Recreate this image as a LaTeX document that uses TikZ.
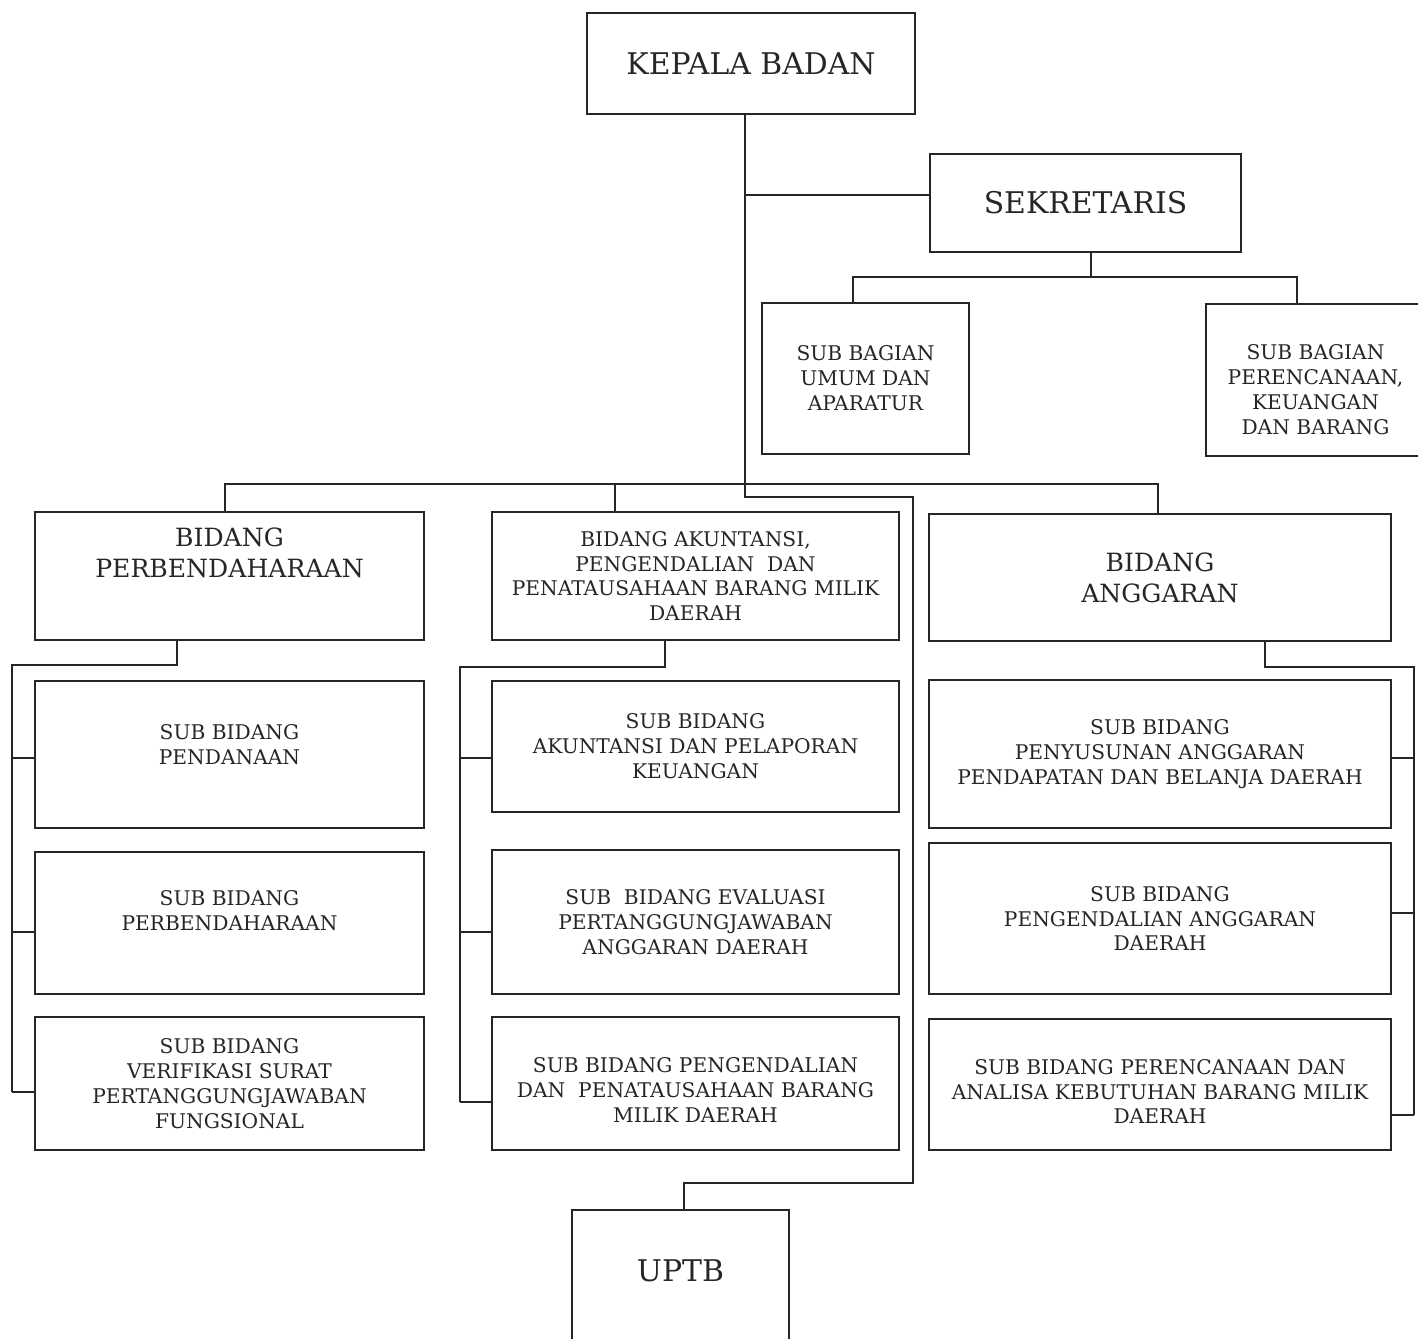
\documentclass[tikz,border=0pt]{standalone}
\usepackage{fontspec}
\setmainfont{DejaVu Serif}
\usepackage{tikz}
\usetikzlibrary{positioning}

\begin{document}
\begin{tikzpicture}[
		x=0.02cm, y=-0.02cm
		,line width=1.1pt, draw=black!85
		,every node/.append style={align=center, inner sep=0pt, text=black!85}
		,box/.style={draw=black!85, rectangle, line width=1.1pt}
		,sz/.style 2 args={minimum width=#1*0.02cm, minimum height=#2*0.02cm}
		,big/.style={font=\fontsize{17}{20}\selectfont}
		,mid/.style={font=\fontsize{14.3}{17.6}\selectfont}
		,sml/.style={font=\fontsize{11.5}{14.2}\selectfont}
	]
		\useasboundingbox (0,0) rectangle (1418,1339);

		% top
		\node [box, big, sz={328}{101}] (kepala) at (751,63.5) {KEPALA BADAN};
		\node [box, big, sz={311}{98}] (sek) at (1085.5,203) {SEKRETARIS};
		\node [box, sml, sz={207}{151}] (umum) at (865.5,378.5) {SUB BAGIAN\\UMUM DAN\\APARATUR};
		\node [box, sz={219}{152}, label={[sml, yshift=-5.7pt]center:{SUB BAGIAN\\PERENCANAAN,\\KEUANGAN\\DAN BARANG}}] (renc) at (1315.5,380) {};

		% bidang
		\node [box, sz={389}{128}, label={[mid, yshift=13pt]center:{BIDANG\\PERBENDAHARAAN}}] (perb) at (229.5,576) {};
		\node [box, sml, sz={407}{128}] (akun) at (695.5,576) {BIDANG AKUNTANSI,\\PENGENDALIAN\ \ DAN\\PENATAUSAHAAN BARANG MILIK\\DAERAH};
		\node [box, mid, sz={462}{127}] (angg) at (1160,577.5) {BIDANG\\ANGGARAN};

		% sub bidang
		\node [box, sz={389}{147}, label={[sml, yshift=5.4pt]center:{SUB BIDANG\\PENDANAAN}}] (p1) at (229.5,754.5) {};
		\node [box, sz={389}{142}, label={[sml, yshift=6.8pt]center:{SUB BIDANG\\PERBENDAHARAAN}}] (p2) at (229.5,923) {};
		\node [box, sml, sz={389}{133}] (p3) at (229.5,1083.5) {SUB BIDANG\\VERIFIKASI SURAT\\PERTANGGUNGJAWABAN\\FUNGSIONAL};

		\node [box, sml, sz={407}{131}] (k1) at (695.5,746.5) {SUB BIDANG\\AKUNTANSI DAN PELAPORAN\\KEUANGAN};
		\node [box, sml, sz={407}{144}] (k2) at (695.5,922) {SUB\ \ BIDANG EVALUASI\\PERTANGGUNGJAWABAN\\ANGGARAN DAERAH};
		\node [box, sz={407}{133}, label={[sml, yshift=-3.7pt]center:{SUB BIDANG PENGENDALIAN\\DAN\ \ PENATAUSAHAAN BARANG\\MILIK DAERAH}}] (k3) at (695.5,1083.5) {};

		\node [box, sml, sz={462}{148}] (a1) at (1160,754) {SUB BIDANG\\PENYUSUNAN ANGGARAN\\PENDAPATAN DAN BELANJA DAERAH};
		\node [box, sml, sz={462}{151}] (a2) at (1160,918.5) {SUB BIDANG\\PENGENDALIAN ANGGARAN\\DAERAH};
		\node [box, sz={462}{131}, label={[sml, yshift=-4pt]center:{SUB BIDANG PERENCANAAN DAN\\ANALISA KEBUTUHAN BARANG MILIK\\DAERAH}}] (a3) at (1160,1084.5) {};

		\node [box, sz={217}{142}, label={[big, yshift=5.7pt]center:{UPTB}}] (uptb) at (680.5,1281) {};

		% garis
		\coordinate (spine) at (745,497);
		\coordinate (jog) at (913,1183);
		\coordinate (drop) at (684,1183);
		\draw (kepala.south -| spine) -- (spine) -| (jog) -- (drop) -- (uptb.north -| drop);
		\coordinate (sekin) at (930,195);
		\draw (spine |- sekin) -- (sekin);

		\coordinate (sl) at (853,277);
		\coordinate (sm) at (1091,277);
		\coordinate (sr) at (1297,277);
		\draw (sek.south -| sm) -- (sm);
		\draw (umum.north -| sl) -- (sl) -- (sr) -- (renc.north -| sr);

		\coordinate (bl) at (225,484);
		\coordinate (bm) at (615,484);
		\coordinate (br) at (1158,484);
		\draw (perb.north -| bl) -- (bl) -- (br) -- (angg.north -| br);
		\draw (bm) -- (akun.north -| bm);

		\coordinate (lt) at (177,665);
		\coordinate (lx) at (12,665);
		\draw (perb.south -| lt) -- (lt) -- (lx) -- (lx |- 0,1092);
		\foreach \n/\y in {p1/758,p2/932,p3/1092}
			\draw (lx |- 0,\y) -- (\n.west |- 0,\y);

		\coordinate (mt) at (665,667);
		\coordinate (mx) at (460,667);
		\draw (akun.south -| mt) -- (mt) -- (mx) -- (mx |- 0,1102);
		\foreach \n/\y in {k1/758,k2/932,k3/1102}
			\draw (mx |- 0,\y) -- (\n.west |- 0,\y);

		\coordinate (rt) at (1265,667);
		\coordinate (rx) at (1414,667);
		\draw (angg.south -| rt) -- (rt) -- (rx) -- (rx |- 0,1115);
		\foreach \n/\y in {a1/758,a2/913,a3/1115}
			\draw (rx |- 0,\y) -- (\n.east |- 0,\y);
	\end{tikzpicture}
\end{document}
